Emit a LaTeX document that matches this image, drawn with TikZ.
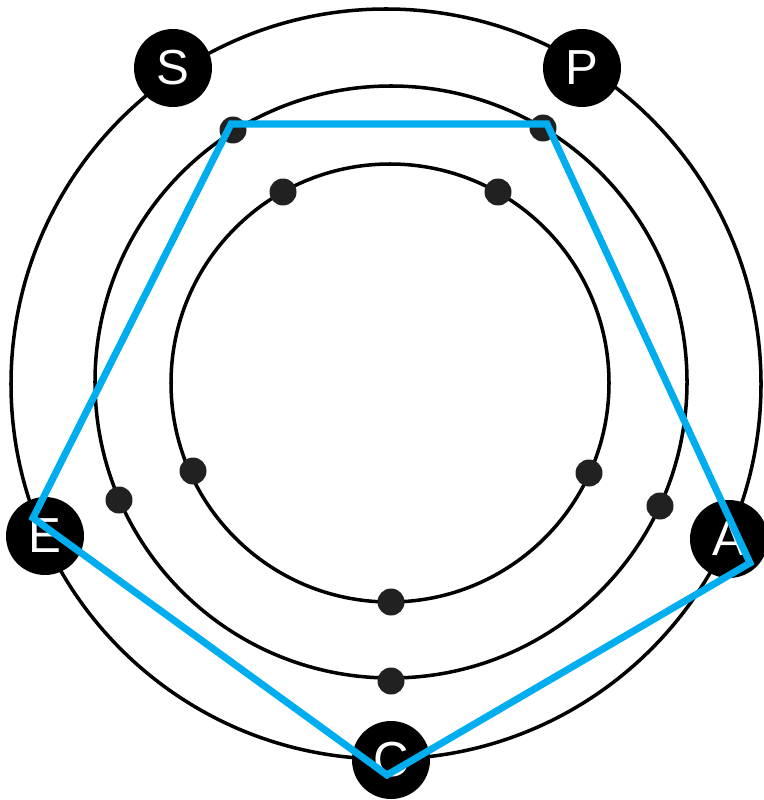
\documentclass[tikz,border=0pt]{standalone}
\usepackage{fontspec}
\setmainfont{Liberation Sans}
\usepackage{tikz}
\usetikzlibrary{positioning}
\definecolor{bleu}{RGB}{0,174,239}

\begin{document}
\begin{tikzpicture}[x=0.02cm, y=-0.02cm,
  orbite/.style={line width=2pt, black},
  perle/.style={circle, fill=black!87, inner sep=0pt, minimum size=0.54cm},
  sommet/.style={circle, fill=black, inner sep=0pt, minimum size=1.56cm,
    text=white, font=\fontsize{28}{28}\selectfont},
  trace/.style={line width=4pt, bleu, line join=miter}]
  \useasboundingbox (0,0) rectangle (763,800);

  % Trois orbites
  \draw[orbite] (386,384) circle (375);
  \draw[orbite] (391,382) circle (296);
  \draw[orbite] (390,383) circle (219);

  % Perles de l'orbite intérieure
  \foreach \x/\y/\n in {283/192/i1, 498/192/i2, 589/473/i3, 391/602/i4, 193/471/i5} {
    \node[perle] (\n) at (\x,\y) {};
  }
  % Perles de l'orbite du milieu
  \foreach \x/\y/\n in {233/130/m1, 543/128/m2, 660/506/m3, 391/681/m4, 119/500/m5} {
    \node[perle] (\n) at (\x,\y) {};
  }

  % Sommets sur l'orbite extérieure
  \node[sommet] (S) at (173,68) {S};
  \node[sommet] (P) at (582,68) {P};
  \node[sommet] (A) at (729,539) {A};
  \node[sommet] (C) at (391,760) {C};
  \node[sommet] (E) at (45,536) {E};

  % Pentagone bleu
  \coordinate (t1) at (231,124);
  \coordinate (t2) at (547,124);
  \coordinate (t3) at (750,563);
  \coordinate (t4) at (387,775);
  \coordinate (t5) at (33,518);
  \draw[trace] (t1) -- (t2) -- (t3) -- (t4) -- (t5) -- cycle;
\end{tikzpicture}
\end{document}
